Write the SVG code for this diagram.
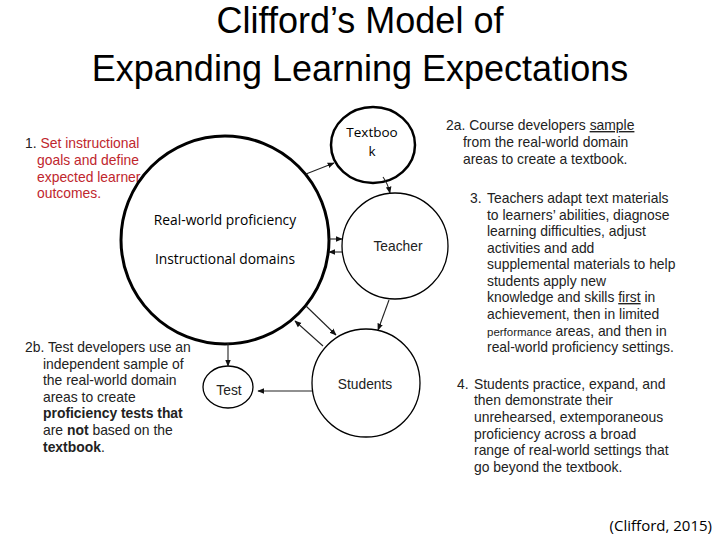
<svg xmlns="http://www.w3.org/2000/svg" width="720" height="540" viewBox="0 0 720 540">
<style>
.title{font-family:"Liberation Sans",Arial,sans-serif;font-size:36px;fill:#000;text-anchor:middle}
.cal{font-family:"Open Sans","Liberation Sans",sans-serif;fill:#000}
.t{font-family:"Liberation Sans",Arial,sans-serif;font-size:13.9px;fill:#222}
.red{fill:#c0262d}
.b{font-weight:bold}
.lbl{font-family:"Liberation Sans",Arial,sans-serif;font-size:13.8px;fill:#222;text-anchor:middle}
.node{fill:#fff;stroke:#000}
.con{fill:none;stroke:#222;stroke-width:1.1}
</style>
<defs>
<marker id="ah" viewBox="0 0 10 10" refX="9" refY="5" markerWidth="7" markerHeight="7" orient="auto" markerUnits="userSpaceOnUse">
<path d="M0,1 L10,5 L0,9 z" fill="#111"/>
</marker>
</defs>
<rect width="720" height="540" fill="#fff"/>
<text class="title" x="360" y="33">Clifford’s Model of</text>
<text class="title" x="360" y="81">Expanding Learning Expectations</text>

<g id="step1">
<text class="t" x="25" y="148">1. <tspan class="red">Set instructional</tspan></text>
<text class="t red" x="37" y="165">goals and define</text>
<text class="t red" x="37" y="182">expected learner</text>
<text class="t red" x="37" y="198">outcomes.</text>
</g>

<g id="domain">
<circle class="node" cx="225" cy="240" r="104" stroke-width="3"/>
<text class="cal" x="225" y="225" font-size="13.8" text-anchor="middle">Real-world proficiency</text>
<text class="cal" x="225" y="264" font-size="13.8" text-anchor="middle">Instructional domains</text>
</g>

<g id="textbook">
<ellipse class="node" cx="373" cy="145" rx="42" ry="38" stroke-width="2.5"/>
<text class="cal" x="372" y="137" font-size="13.5" text-anchor="middle">Textboo</text>
<text class="cal" x="372" y="156" font-size="13.5" text-anchor="middle">k</text>
</g>

<g id="teacher">
<circle class="node" cx="395" cy="246" r="53" stroke-width="1.3"/>
<text class="lbl" x="398" y="251">Teacher</text>
</g>

<g id="students">
<circle class="node" cx="366" cy="383" r="54" stroke-width="1.3"/>
<text class="lbl" x="365" y="389">Students</text>
</g>

<g id="test">
<ellipse class="node" cx="228" cy="387" rx="25" ry="21" stroke-width="1.3"/>
<text class="lbl" x="229" y="395" font-size="14.5">Test</text>
</g>

<g id="connectors">
<line class="con" x1="306" y1="174" x2="334" y2="163" marker-end="url(#ah)"/>
<path class="con" d="M383,177 Q388,184 390,193" marker-end="url(#ah)"/>
<line class="con" x1="329" y1="239" x2="342" y2="239" marker-end="url(#ah)"/>
<line class="con" x1="342" y1="252" x2="329" y2="252" marker-end="url(#ah)"/>
<line class="con" x1="389" y1="300" x2="378" y2="330" marker-end="url(#ah)"/>
<line class="con" x1="306" y1="306" x2="336" y2="335" marker-end="url(#ah)"/>
<line class="con" x1="323" y1="346" x2="295" y2="321" marker-end="url(#ah)"/>
<line class="con" x1="228" y1="343" x2="228" y2="366" marker-end="url(#ah)"/>
<line class="con" x1="312" y1="391" x2="258" y2="391" marker-end="url(#ah)"/>
</g>

<g id="step2a">
<text class="t" x="446" y="130">2a. Course developers <tspan text-decoration="underline">sample</tspan></text>
<text class="t" x="463" y="147">from the real-world domain</text>
<text class="t" x="463" y="164">areas to create a textbook.</text>
</g>

<g id="step3">
<text class="t" x="470" y="203">3.</text>
<text class="t" x="487" y="203">Teachers adapt text materials</text>
<text class="t" x="487" y="220">to learners’ abilities, diagnose</text>
<text class="t" x="487" y="236">learning difficulties, adjust</text>
<text class="t" x="487" y="253">activities and add</text>
<text class="t" x="487" y="269">supplemental materials to help</text>
<text class="t" x="487" y="286">students apply new</text>
<text class="t" x="487" y="302">knowledge and skills <tspan text-decoration="underline">first</tspan> in</text>
<text class="t" x="487" y="319">achievement, then in limited</text>
<text class="t" x="487" y="336"><tspan font-size="11.5">performance</tspan> areas, and then in</text>
<text class="t" x="487" y="352">real-world proficiency settings.</text>
</g>

<g id="step2b">
<text class="t" x="25" y="352">2b. Test developers use an</text>
<text class="t" x="43" y="369">independent sample of</text>
<text class="t" x="43" y="385">the real-world domain</text>
<text class="t" x="43" y="402">areas to create</text>
<text class="t b" x="43" y="418">proficiency tests that</text>
<text class="t" x="43" y="435">are <tspan class="b">not</tspan> based on the</text>
<text class="t" x="43" y="452"><tspan class="b">textbook</tspan>.</text>
</g>

<g id="step4">
<text class="t" x="457" y="389">4.</text>
<text class="t" x="474" y="389">Students practice, expand, and</text>
<text class="t" x="474" y="405">then demonstrate their</text>
<text class="t" x="474" y="422">unrehearsed, extemporaneous</text>
<text class="t" x="474" y="439">proficiency across a broad</text>
<text class="t" x="474" y="455">range of real-world settings that</text>
<text class="t" x="474" y="472">go beyond the textbook.</text>
</g>

<text class="cal" x="712" y="531" font-size="15" text-anchor="end">(Clifford, 2015)</text>
</svg>
